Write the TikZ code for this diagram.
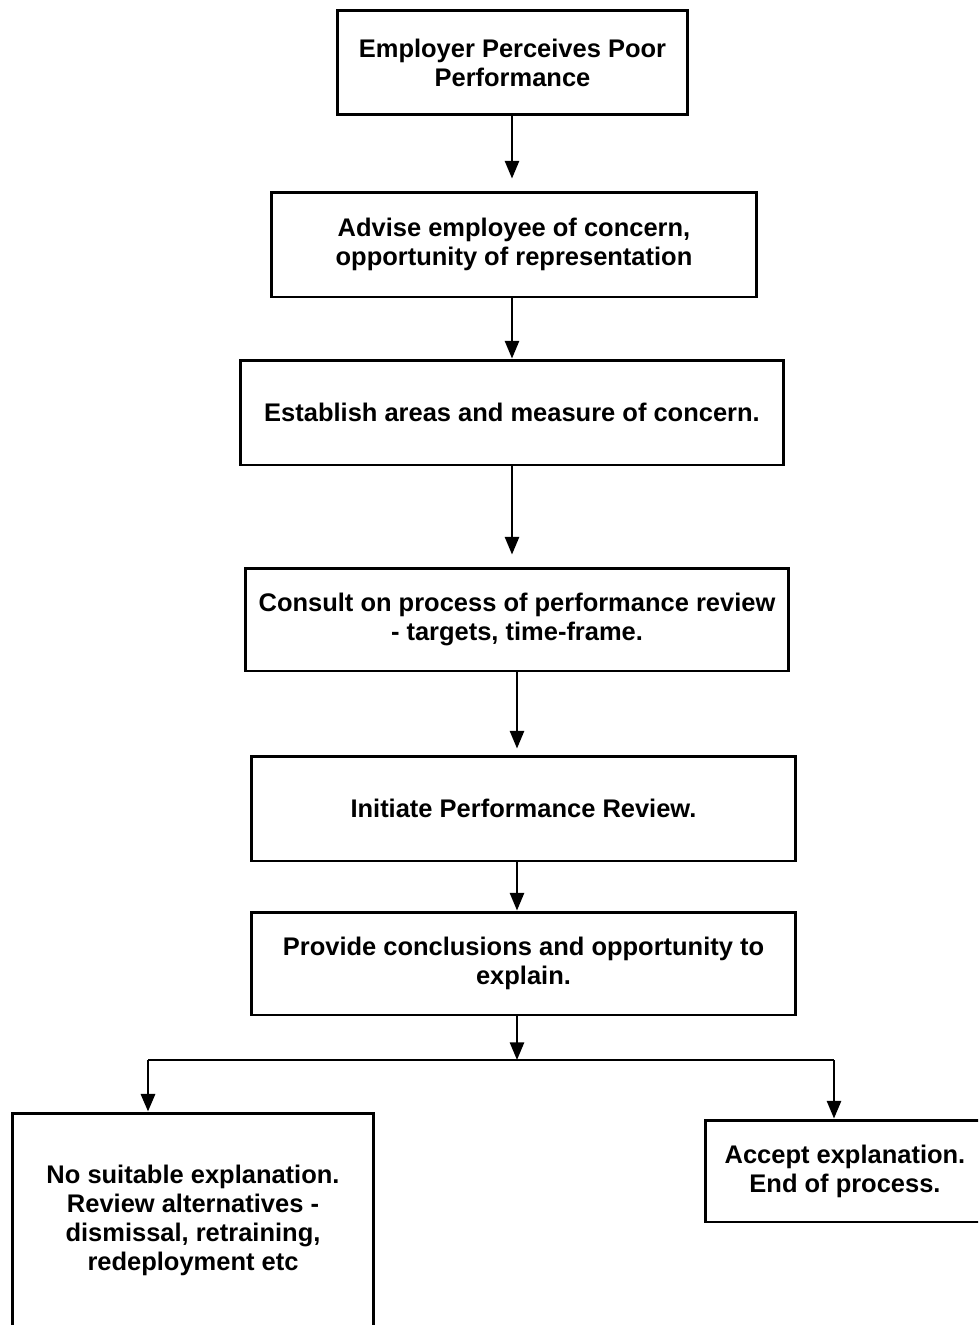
\documentclass[tikz,border=0pt]{standalone}
\usepackage{fontspec}
\setmainfont{Liberation Sans}
\usetikzlibrary{arrows.meta}
\tikzset{
	etape/.style={draw, line width=1.7pt, align=center, inner sep=0pt,
		font=\bfseries\fontsize{14.5}{16.5}\selectfont},
	fleche/.style={-{Triangle[width=8pt,length=10pt]}, line width=1.3pt},
}
\begin{document}
\begin{tikzpicture}[x=0.02cm,y=-0.02cm]
\useasboundingbox (0,0) rectangle (978,1325);
\clip (0,0) rectangle (978,1325);

\node[etape, minimum width=7.02cm, minimum height=2.1cm] (employeur) at (512.5,62.5) {Employer Perceives Poor\\Performance};
\node[etape, minimum width=9.72cm, minimum height=2.1cm] (avis) at (514,244.5) {Advise employee of concern,\\opportunity of representation};
\node[etape, minimum width=10.88cm, minimum height=2.1cm] (domaines) at (512,412.5) {Establish areas and measure of concern.};
\node[etape, minimum width=10.88cm, minimum height=2.06cm] (consult) at (517,619.5) {Consult on process of performance review\\- targets, time-frame.};
\node[etape, minimum width=10.9cm, minimum height=2.1cm] (revue) at (523.5,808.5) {Initiate Performance Review.};
\node[etape, minimum width=10.9cm, minimum height=2.06cm] (conclusions) at (523.5,963.5) {Provide conclusions and opportunity to\\explain.};
\node[etape, minimum width=7.24cm, minimum height=4.28cm] (refus) at (193,1220) {No suitable explanation.\\Review alternatives -\\dismissal, retraining,\\redeployment etc};
\node[etape, minimum width=5.6cm, minimum height=2.04cm] (accepte) at (845,1171) {Accept explanation.\\End of process.};

\draw[fleche, shorten >=0.24cm] (employeur.south -| 512,0) -- (512,0 |- avis.north);
\draw[fleche] (avis.south -| 512,0) -- (512,0 |- domaines.north);
\draw[fleche, shorten >=0.24cm] (domaines.south -| 512,0) -- (512,0 |- consult.north);
\draw[fleche, shorten >=0.12cm] (consult.south -| 517,0) -- (517,0 |- revue.north);
\draw[fleche] (revue.south -| 517,0) -- (517,0 |- conclusions.north);

% embranchement
\coordinate (jonction) at (517,1060);
\coordinate (gauche) at (148,1060);
\coordinate (droite) at (834,1060);
\draw[fleche] (conclusions.south -| jonction) -- (jonction);
\draw[line width=0.9pt] (gauche) -- (droite);
\draw[fleche, line width=1.7pt] (gauche) -- (gauche |- refus.north);
\draw[fleche] (droite) -- (droite |- accepte.north);
\end{tikzpicture}
\end{document}
